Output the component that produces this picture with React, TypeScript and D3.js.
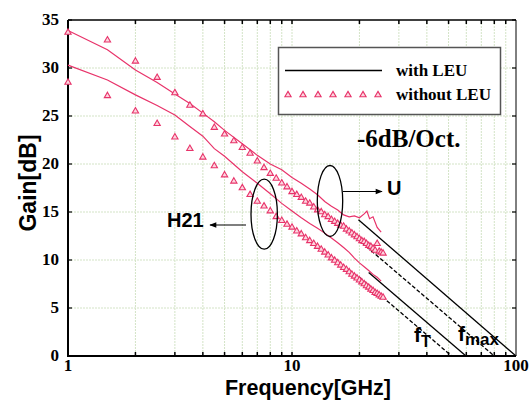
import React from 'react';
import * as d3 from 'd3';

const W = 531;
const H = 401;
const X0 = 68, X1 = 516, Y0 = 356, Y1 = 20;

// U with LEU (solid red)
const uWithFreq = [1, 1.5, 2, 2.5, 3, 3.5, 4, 4.5, 5, 6, 7, 8, 9, 10, 11, 12, 13, 14, 15, 16, 17, 18, 19, 20, 21, 21.6, 22.2, 23, 24, 25];
const uWithGain = [33.9, 31.9, 29.8, 28.5, 27.3, 26.3, 25.3, 24.4, 23.5, 22.1, 20.9, 20.0, 19.4, 18.6, 18.0, 17.4, 16.8, 16.1, 15.6, 15.2, 14.7, 14.5, 14.6, 14.4, 14.8, 15.1, 14.3, 14.5, 13.4, 12.9];

// H21 with LEU (solid red)
const h21WithFreq = [1, 1.5, 2, 2.5, 3, 3.5, 4, 4.5, 5, 6, 7, 8, 9, 10, 11, 12, 13, 14, 15, 16, 17, 18, 19, 20, 21, 22, 23, 24, 25];
const h21WithGain = [30.3, 28.75, 27.2, 26.1, 25.1, 23.9, 22.9, 21.6, 20.8, 19.2, 18.0, 16.9, 15.9, 15.1, 14.4, 13.8, 13.3, 12.8, 12.3, 11.8, 11.3, 10.8, 10.2, 9.7, 9.3, 8.9, 8.5, 8.2, 7.8];

// without LEU (triangles)
const triFreq = [1, 1.5, 2, 2.5, 3, 3.5, 4, 4.5, 5, 5.5, 6, 6.5, 7, 7.5, 8, 8.5, 9, 9.5, 10, 10.5, 11, 11.5, 12, 12.5, 13, 13.5, 14, 14.5, 15, 15.5, 16, 16.5, 17, 17.5, 18, 18.5, 19, 19.5, 20, 20.5, 21, 21.5, 22, 22.5, 23, 23.5, 24, 24.5, 25, 25.5];
const uWithoutGain = [33.7, 32.9, 30.7, 29.0, 27.4, 26.1, 25.2, 23.8, 23.1, 22.4, 21.7, 21.1, 20.3, 19.6, 19.0, 18.5, 18.0, 17.6, 17.1, 16.8, 16.5, 16.1, 15.9, 15.5, 15.2, 15.0, 14.7, 14.5, 14.2, 14.0, 13.8, 13.6, 13.5, 13.2, 13.0, 12.8, 12.6, 12.4, 12.2, 12.0, 11.9, 11.7, 11.5, 11.4, 11.2, 11.0, 11.7, 10.9, 10.8, 10.7];
const h21WithoutGain = [28.5, 27.1, 25.5, 24.2, 22.8, 21.6, 20.7, 19.8, 18.85, 18.2, 17.5, 16.8, 16.1, 15.6, 15.1, 14.5, 14.1, 13.7, 13.4, 13.0, 12.7, 12.3, 12.0, 11.7, 11.4, 11.1, 10.8, 10.5, 10.2, 9.95, 9.7, 9.45, 9.2, 9.0, 8.75, 8.5, 8.3, 8.1, 7.9, 7.7, 7.5, 7.3, 7.15, 6.95, 6.8, 6.6, 6.5, 6.35, 6.2, 6.1];

// -6 dB/Oct extrapolations: start point and 0 dB intercept
const extrapSeries = ['with', 'without', 'with', 'without'];
const extrapStartFreq = [19.8, 18.7, 22, 20];
const extrapStartGain = [14.2, 12.6, 8.7, 8.2];
const extrapEndFreq = [100, 80, 59.8, 51.6];

const yTicks = [0, 5, 10, 15, 20, 25, 30, 35];
const xMajor = [1, 10, 100];
const xMinor = [2, 3, 4, 5, 6, 7, 8, 9, 20, 30, 40, 50, 60, 70, 80, 90];
const legendLabels = ['with LEU', 'without LEU'];

const RED = '#e8336a';
const GRID = '#d3e3c6';

export default function App() {
  const x = d3.scaleLog().domain([1, 100]).range([X0, X1]);
  const y = d3.scaleLinear().domain([0, 35]).range([Y0, Y1]);
  const line = d3.line<[number, number]>().x((d) => x(d[0])).y((d) => y(d[1]));
  const tri = d3.symbol().type(d3.symbolTriangle).size(17)() as string;

  const uWith = uWithFreq.map((f, i) => [f, uWithGain[i]] as [number, number]);
  const hWith = h21WithFreq.map((f, i) => [f, h21WithGain[i]] as [number, number]);

  const serif = "'Liberation Serif', 'DejaVu Serif', serif";
  const sans = "'Liberation Sans', Arial, sans-serif";

  return (
    <svg width={W} height={H} style={{ position: 'absolute', left: 0, top: 0, background: '#fff' }}>
      <defs>
        <marker id="ah" viewBox="0 0 10 10" refX="9" refY="5" markerWidth="9" markerHeight="7" markerUnits="userSpaceOnUse" orient="auto">
          <path d="M0,1 L10,5 L0,9 Z" fill="#000" />
        </marker>
      </defs>
      {/* grid */}
      {[...xMinor, 10].map((v) => (
        <line key={'gx' + v} x1={x(v)} x2={x(v)} y1={Y1} y2={Y0} stroke={GRID} strokeWidth={1} strokeDasharray="2,1" />
      ))}
      {yTicks.filter((v) => v > 0 && v < 35).map((v) => (
        <line key={'gy' + v} x1={X0} x2={X1} y1={y(v)} y2={y(v)} stroke={GRID} strokeWidth={1} strokeDasharray="2,1" />
      ))}
      {/* ticks */}
      {[...xMinor, 10].map((v) => (
        <g key={'tx' + v}>
          <line x1={x(v)} x2={x(v)} y1={Y1} y2={Y1 + 4} stroke="#000" strokeWidth={1.5} />
          <line x1={x(v)} x2={x(v)} y1={Y0} y2={Y0 - 4} stroke="#000" strokeWidth={1.5} />
        </g>
      ))}
      {yTicks.map((v) => (
        <g key={'ty' + v}>
          <line x1={X1} x2={X1 - 4} y1={y(v)} y2={y(v)} stroke="#000" strokeWidth={1.2} />
          <line x1={X0} x2={X0 + 4} y1={y(v)} y2={y(v)} stroke="#000" strokeWidth={1.2} />
        </g>
      ))}
      {/* frame */}
      <line x1={X0} x2={X1} y1={Y1} y2={Y1} stroke="#000" strokeWidth={1.5} />
      <line x1={X1} x2={X1} y1={Y1} y2={Y0} stroke="#000" strokeWidth={1} />
      <line x1={X0} x2={X0} y1={Y1} y2={Y0 + 1} stroke="#000" strokeWidth={2} />
      <line x1={X0 - 1} x2={X1} y1={Y0} y2={Y0} stroke="#000" strokeWidth={2} />
      {/* tick labels */}
      {yTicks.map((v) => (
        <text key={'ly' + v} x={59} y={y(v) + 5} textAnchor="end" fontFamily={serif} fontWeight="bold" fontSize={17}>{v}</text>
      ))}
      {xMajor.map((v) => (
        <text key={'lx' + v} x={x(v)} y={371} textAnchor="middle" fontFamily={serif} fontWeight="bold" fontSize={17}>{v}</text>
      ))}
      {/* axis titles */}
      <text x={308} y={395} textAnchor="middle" fontFamily={sans} fontWeight="bold" fontSize={21.5}>Frequency[GHz]</text>
      <text transform="translate(36,183) rotate(-90)" textAnchor="middle" fontFamily={sans} fontWeight="bold" fontSize={23}>Gain[dB]</text>
      {/* extrapolation lines */}
      {extrapSeries.map((s, i) => (
        <line key={'ex' + i} x1={x(extrapStartFreq[i])} y1={y(extrapStartGain[i])} x2={x(extrapEndFreq[i])} y2={y(0)}
          stroke="#000" strokeWidth={1.3} strokeDasharray={s === 'without' ? '4,2' : undefined} />
      ))}
      {/* data */}
      <path d={line(uWith) || ''} fill="none" stroke={RED} strokeWidth={1.2} />
      <path d={line(hWith) || ''} fill="none" stroke={RED} strokeWidth={1.2} />
      {triFreq.map((f, i) => (
        <path key={'tu' + i} d={tri} transform={`translate(${x(f)},${y(uWithoutGain[i])})`} fill="#fcd6df" stroke={RED} strokeWidth={1.1} />
      ))}
      {triFreq.map((f, i) => (
        <path key={'th' + i} d={tri} transform={`translate(${x(f)},${y(h21WithoutGain[i])})`} fill="#fcd6df" stroke={RED} strokeWidth={1.1} />
      ))}
      {/* legend */}
      <rect x={278.5} y={47.5} width={222} height={67} fill="#fff" stroke="#555" strokeWidth={1.5} />
      <line x1={285} x2={382} y1={70.5} y2={70.5} stroke="#000" strokeWidth={1.3} />
      {[288, 303, 318, 333, 348, 363, 378].map((px) => (
        <path key={'lt' + px} d={tri} transform={`translate(${px},${95})`} fill="#fcd6df" stroke={RED} strokeWidth={1.1} />
      ))}
      <text x={396} y={76} fontFamily={serif} fontWeight="bold" fontSize={17}>{legendLabels[0]}</text>
      <text x={396} y={100} fontFamily={serif} fontWeight="bold" fontSize={17}>{legendLabels[1]}</text>
      {/* annotations */}
      <text x={357} y={147} fontFamily={serif} fontWeight="bold" fontSize={25}>-6dB/Oct.</text>
      <ellipse cx={264.2} cy={214.2} rx={13.2} ry={35} fill="none" stroke="#000" strokeWidth={1.3} />
      <ellipse cx={330} cy={201} rx={12.7} ry={35.5} fill="none" stroke="#000" strokeWidth={1.3} />
      <line x1={246} y1={225} x2={210} y2={225} stroke="#000" strokeWidth={1.2} markerEnd="url(#ah)" />
      <line x1={343} y1={191.5} x2={382} y2={191.5} stroke="#000" strokeWidth={1.2} markerEnd="url(#ah)" />
      <text x={167} y={227} fontFamily={sans} fontWeight="bold" fontSize={20}>H21</text>
      <text x={387} y={195} fontFamily={sans} fontWeight="bold" fontSize={20}>U</text>
      <text x={414} y={342} fontFamily={sans} fontWeight="bold" fontSize={21}>f<tspan dy={5} fontSize={16}>T</tspan></text>
      <text x={458} y={341} fontFamily={sans} fontWeight="bold" fontSize={21}>f<tspan dy={4} fontSize={17}>max</tspan></text>
    </svg>
  );
}
